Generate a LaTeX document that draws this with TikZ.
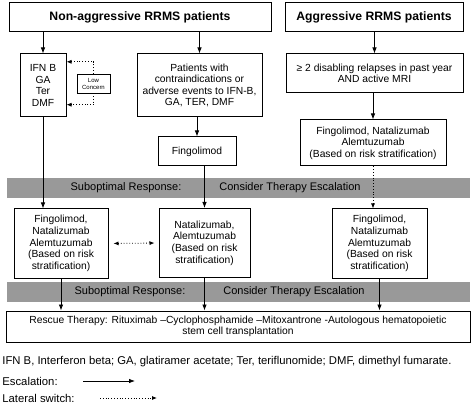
\documentclass[tikz,border=0pt]{standalone}
\usepackage{fontspec}
\setmainfont{Liberation Sans}
\usepackage{tikz}
\usetikzlibrary{arrows.meta,calc}

\begin{document}
\begin{tikzpicture}[x=1pt, y=-1pt,
                    line width = 0.8pt,
                    box/.style={draw, line width=1pt, fill=white, align=center, inner sep=1pt, font=\fontsize{10.3}{11.6}\selectfont},
                    head/.style={box, font=\fontsize{12.2}{14}\selectfont\bfseries},
                    band/.style={fill=black!40, draw=none},
                    bandtext/.style={font=\fontsize{11}{12}\selectfont},
                    legendtext/.style={anchor=west, inner sep=0pt, font=\fontsize{11.3}{12}\selectfont},
                    esc/.style={-{Latex[length=6pt,width=4.5pt]}},
                    lat/.style={dotted, {}-{Latex[length=5pt,width=4pt]}},
                    latboth/.style={dotted, {Latex[length=5pt,width=4pt]}-{Latex[length=5pt,width=4pt]}}]

    \useasboundingbox (0,0) rectangle (474,406);

    % top row
    \node [head, minimum width=262pt, minimum height=29pt] (nonagg) at (140,17.5) {Non-aggressive RRMS patients};
    \node [head, minimum width=178pt, minimum height=29pt] (agg) at (374,17.5) {Aggressive RRMS patients};

    % non-aggressive branch
    \node [box, minimum width=46pt, minimum height=63pt] (ifn) at (43,85.5) {IFN B\\GA\\Ter\\DMF};
    \node [box, line width=0.6pt, minimum width=33pt, minimum height=19pt, font=\fontsize{6}{7}\selectfont] (low) at (93.5,83.5) {Low\\Concern};
    \node [box, minimum width=125pt, minimum height=63pt] (contra) at (199.5,85.5) {Patients with\\contraindications or\\adverse events to IFN-B,\\GA, TER, DMF};
    \node [box, minimum width=78pt, minimum height=29pt] (fingo) at (197,151.5) {Fingolimod};

    % aggressive branch
    \node [box, minimum width=177pt, minimum height=39pt] (relapse) at (374.5,73.5) {≥ 2 disabling relapses in past year\\AND active MRI};
    \node [box, minimum width=146pt, minimum height=46pt] (aggdrugs) at (373,143) {Fingolimod, Natalizumab\\Alemtuzumab\\(Based on risk stratification)};

    % first escalation band
    \fill [band] (7,178) rectangle (470,198);
    \node [bandtext] (sub1) at (126,188) {Suboptimal Response:};
    \node [bandtext] (cons1) at (290,188) {Consider Therapy Escalation};

    % escalation row
    \node [box, minimum width=94pt, minimum height=69pt] (leftesc) at (61,243.5) {Fingolimod,\\Natalizumab\\Alemtuzumab\\(Based on risk\\stratification)};
    \node [box, minimum width=91pt, minimum height=69pt] (midesc) at (204.5,243) {Natalizumab,\\Alemtuzumab\\(Based on risk\\stratification)};
    \node [box, minimum width=95pt, minimum height=69pt] (rightesc) at (379.5,243.5) {Fingolimod,\\Natalizumab\\Alemtuzumab\\(Based on risk\\stratification)};

    % second escalation band
    \fill [band] (7,282) rectangle (470,302);
    \node [bandtext] (sub2) at (130,292) {Suboptimal Response:};
    \node [bandtext] (cons2) at (294,292) {Consider Therapy Escalation};

    \node [box, minimum width=464pt, minimum height=31pt, inner sep=0pt] (rescue) at (238,326.5) {Rescue Therapy: Rituximab --Cyclophosphamide --Mitoxantrone -Autologous hematopoietic\\stem cell transplantation};

    % connectors
    \draw [esc] (nonagg.south -| ifn.north) -- (ifn.north);
    \draw [esc] (nonagg.south -| contra.north) -- (contra.north);
    \draw [esc] (agg.south -| relapse.north) -- (relapse.north);
    \draw [esc] (relapse.south -| aggdrugs.north) -- (aggdrugs.north);
    \draw [esc] (contra.south -| fingo.north) -- (fingo.north);
    \draw [lat] (low.north) |- ($(ifn.north east)!0.13!(ifn.south east)$);
    \draw [lat] (low.south) |- ($(ifn.north east)!0.8!(ifn.south east)$);
    \draw [esc] (ifn.south) -- (ifn.south |- leftesc.north);
    \draw [esc] (fingo.south -| midesc.north) -- (midesc.north);
    \draw [lat] (aggdrugs.south) -- (aggdrugs.south |- rightesc.north);
    \draw [latboth, shorten <=5pt, shorten >=4pt] (leftesc.east) -- (midesc.west);
    \draw [esc] (leftesc.south) -- (leftesc.south |- rescue.north);
    \draw [esc] (midesc.south) -- (midesc.south |- rescue.north);
    \draw [esc] (rightesc.south) -- (rightesc.south |- rescue.north);

    % legend
    \node [legendtext] (abbr) at (2,362) {IFN B, Interferon beta; GA, glatiramer acetate; Ter, teriflunomide; DMF, dimethyl fumarate.};
    \node [legendtext] (esclabel) at (2,381) {Escalation:};
    \node [legendtext] (latlabel) at (2,398) {Lateral switch:};
    \coordinate (escA) at (83,381);
    \coordinate (escB) at (135,381);
    \coordinate (latA) at (100,398);
    \coordinate (latB) at (157,398);
    \draw [esc] (escA) -- (escB);
    \draw [lat] (latA) -- (latB);

\end{tikzpicture}
\end{document}
